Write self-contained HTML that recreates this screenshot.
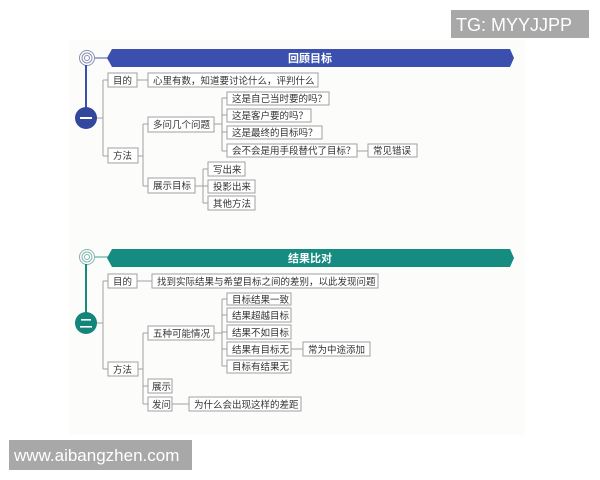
<!DOCTYPE html>
<html><head><meta charset="utf-8"><style>
html,body{margin:0;padding:0;background:#fff;}
svg{display:block}
text{font-family:"Liberation Sans","Noto Sans CJK SC",sans-serif;font-size:9.5px;fill:#333;}
.b{fill:#fff;stroke:#a0a0a0;stroke-width:1}
.l{fill:none;stroke:#a0a0a0;stroke-width:1}
</style></head><body>
<svg width="600" height="480" viewBox="0 0 600 480">
<rect x="70" y="40" width="455" height="395" fill="#fcfcfb"/>
<!-- Section 1 -->
<line x1="95" y1="58" x2="108" y2="58" stroke="#7f8fc8" stroke-width="1.5"/>
<polygon points="112,49 510,49 514,58 510,67 112,67 107,58" fill="#3b4fae"/>
<text x="310" y="62" style="fill:#fff;font-weight:bold;font-size:11px" text-anchor="middle">回顾目标</text>
<circle cx="87" cy="58" r="7.5" fill="#fff" stroke="#8a8fb5" stroke-width="1"/>
<circle cx="87" cy="58" r="5" fill="none" stroke="#8a8fb5" stroke-width="1"/>
<circle cx="87" cy="58" r="2.5" fill="none" stroke="#8a8fb5" stroke-width="1"/>
<line x1="86" y1="65" x2="86" y2="108" stroke="#3b4fae" stroke-width="2"/>
<circle cx="86" cy="118" r="11" fill="#33479f"/>
<rect x="80" y="117" width="12" height="2" fill="#fff"/>
<path class="l" d="M97 118H103M103 80V156M103 80H108M103 156H108M137 80H148"/>
<rect class="b" x="108" y="73" width="29" height="14"/><text x="113" y="84">目的</text>
<rect class="b" x="148" y="73" width="170" height="14"/><text x="153" y="84">心里有数，知道要讨论什么，评判什么</text>
<rect class="b" x="108" y="148" width="30" height="15"/><text x="113" y="159">方法</text>
<path class="l" d="M138 156H143M143 124V186M143 124H148M143 186H148"/>
<rect class="b" x="148" y="117" width="66" height="15"/><text x="153" y="128">多问几个问题</text>
<path class="l" d="M214 124H222M222 98V151M222 98H227M222 115H227M222 132H227M222 151H227"/>
<rect class="b" x="227" y="92" width="102" height="13"/><text x="232" y="102">这是自己当时要的吗？</text>
<rect class="b" x="227" y="109" width="84" height="13"/><text x="232" y="119">这是客户要的吗？</text>
<rect class="b" x="227" y="126" width="95" height="13"/><text x="232" y="136">这是最终的目标吗？</text>
<rect class="b" x="227" y="144" width="130" height="13"/><text x="232" y="154">会不会是用手段替代了目标？</text>
<path class="l" d="M357 151H368"/>
<rect class="b" x="368" y="144" width="49" height="13"/><text x="373" y="154">常见错误</text>
<rect class="b" x="148" y="178" width="47" height="15"/><text x="153" y="189">展示目标</text>
<path class="l" d="M195 186H203M203 169V203M203 169H208M203 186H208M203 203H208"/>
<rect class="b" x="208" y="162" width="37" height="14"/><text x="213" y="173">写出来</text>
<rect class="b" x="208" y="180" width="47" height="13"/><text x="213" y="190">投影出来</text>
<rect class="b" x="208" y="196" width="47" height="14"/><text x="213" y="207">其他方法</text>
<!-- Section 2 -->
<line x1="95" y1="257" x2="108" y2="257" stroke="#7fbcb5" stroke-width="1.5"/>
<polygon points="112,249 510,249 514,258 510,267 112,267 107,258" fill="#168c81"/>
<text x="310" y="262" style="fill:#fff;font-weight:bold;font-size:11px" text-anchor="middle">结果比对</text>
<circle cx="87" cy="257" r="7.5" fill="#fff" stroke="#7fb5ae" stroke-width="1"/>
<circle cx="87" cy="257" r="5" fill="none" stroke="#7fb5ae" stroke-width="1"/>
<circle cx="87" cy="257" r="2.5" fill="none" stroke="#7fb5ae" stroke-width="1"/>
<line x1="86" y1="264" x2="86" y2="313" stroke="#168c81" stroke-width="2"/>
<circle cx="86" cy="323" r="11" fill="#14857a"/>
<rect x="81" y="319" width="10" height="1.6" fill="#fff"/><rect x="80" y="326" width="12" height="1.6" fill="#fff"/>
<path class="l" d="M97 323H103M103 281V369M103 281H108M103 369H108M137 281H152"/>
<rect class="b" x="108" y="274" width="29" height="14"/><text x="113" y="285">目的</text>
<rect class="b" x="152" y="274" width="226" height="14"/><text x="157" y="285">找到实际结果与希望目标之间的差别，以此发现问题</text>
<rect class="b" x="108" y="362" width="30" height="14"/><text x="113" y="373">方法</text>
<path class="l" d="M138 369H143M143 333V404M143 333H148M143 386H148M143 404H148"/>
<rect class="b" x="148" y="326" width="66" height="14"/><text x="153" y="337">五种可能情况</text>
<path class="l" d="M214 333H222M222 299V366M222 299H227M222 315H227M222 332H227M222 349H227M222 366H227"/>
<rect class="b" x="227" y="293" width="64" height="12"/><text x="232" y="303">目标结果一致</text>
<rect class="b" x="227" y="308" width="64" height="14"/><text x="232" y="319">结果超越目标</text>
<rect class="b" x="227" y="325" width="64" height="14"/><text x="232" y="336">结果不如目标</text>
<rect class="b" x="227" y="342" width="64" height="14"/><text x="232" y="353">结果有目标无</text>
<path class="l" d="M291 349H303"/>
<rect class="b" x="303" y="342" width="67" height="14"/><text x="308" y="353">常为中途添加</text>
<rect class="b" x="227" y="360" width="64" height="13"/><text x="232" y="370">目标有结果无</text>
<rect class="b" x="148" y="379" width="24" height="14"/><text x="152" y="390">展示</text>
<rect class="b" x="148" y="397" width="24" height="14"/><text x="152" y="408">发问</text>
<path class="l" d="M172 404H189"/>
<rect class="b" x="189" y="397" width="112" height="14"/><text x="194" y="408">为什么会出现这样的差距</text>
<!-- watermarks -->
<rect x="451" y="10" width="138" height="28" fill="#a8a8a8"/>
<text x="456" y="31" style="fill:#fff;font-size:18px">TG: MYYJJPP</text>
<rect x="9" y="440" width="183" height="30" fill="#a8a8a8"/>
<text x="14" y="461" style="fill:#fff;font-size:17px">www.aibangzhen.com</text>
</svg>
</body></html>
